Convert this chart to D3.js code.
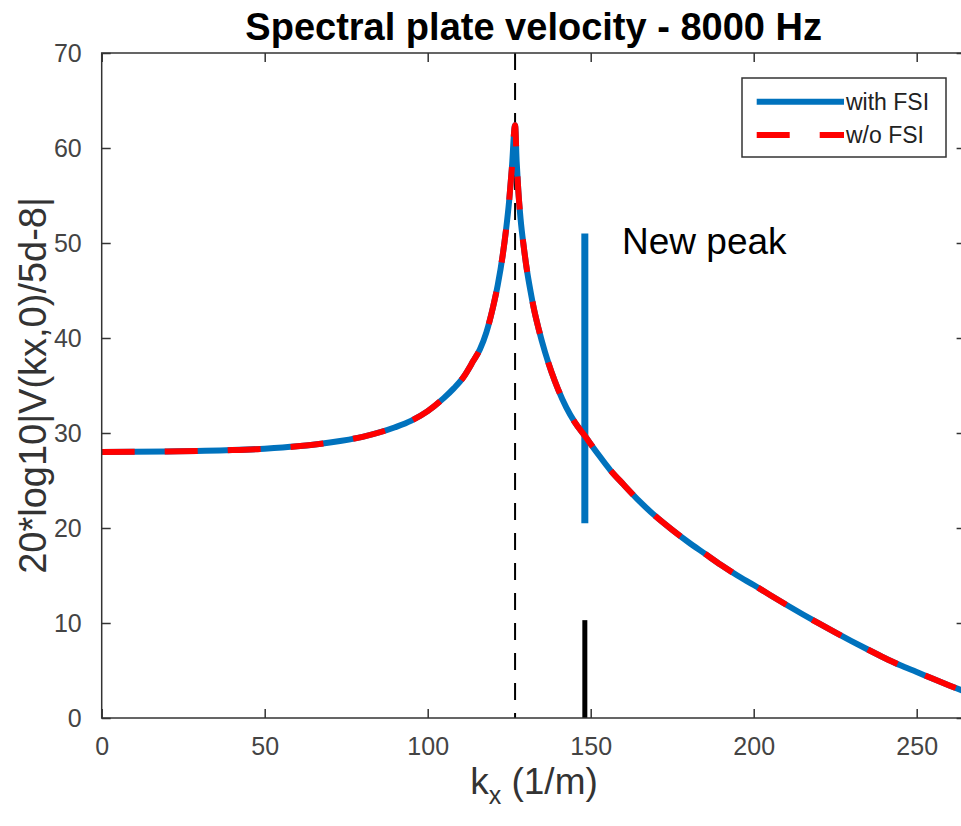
<!DOCTYPE html>
<html>
<head>
<meta charset="utf-8">
<script src="https://cdn.jsdelivr.net/npm/d3@7"></script>
<style>
  html, body { margin: 0; padding: 0; background: #fff; }
  svg { display: block; font-family: "Liberation Sans", Arial, sans-serif; }
</style>
</head>
<body>
<svg id="chart" width="961" height="826"></svg>
<script>
// ---- data ----
const kx = [0, 20, 40, 50, 60, 70, 80, 90, 95, 100, 105, 108, 111, 114, 116, 118, 120, 121.5, 123, 124, 125, 125.8, 126.8,
  127.3, 127.8, 128.5, 129.5, 130.5, 131.5, 132.5, 134, 136, 138, 140, 142.5, 145, 148.2,
  152, 156, 160, 165, 170, 175, 180, 185, 190, 195, 200, 205, 210, 215, 220, 225, 230, 235, 240, 245, 250, 255, 260, 265];
const withFSI = [28.0, 28.05, 28.2, 28.35, 28.6, 29.0, 29.6, 30.6, 31.3, 32.3, 33.7, 34.7, 35.9, 37.6, 38.8, 40.6, 43.2, 45.6, 48.7, 51.3, 54.5, 57.8, 62.4,
  58.5, 55.5, 52.5, 49.5, 47.0, 45.0, 43.2, 41.0, 38.5, 36.4, 34.6, 32.7, 31.2, 29.7,
  27.9, 26.1, 24.6, 22.8, 21.2, 19.8, 18.5, 17.3, 16.1, 15.0, 14.0, 12.95, 11.92, 10.92, 9.95, 9.01, 8.1, 7.21, 6.35, 5.55, 4.85, 4.12, 3.42, 2.75];
const withoutFSI = [28.0, 28.05, 28.2, 28.35, 28.6, 29.0, 29.6, 30.6, 31.3, 32.3, 33.7, 34.7, 35.9, 37.6, 38.8, 40.6, 43.2, 45.6, 48.7, 51.3, 54.5, 57.8, 62.4,
  58.5, 55.5, 52.5, 49.5, 47.0, 45.0, 43.2, 41.0, 38.5, 36.4, 34.6, 32.7, 31.2, 29.7,
  27.9, 26.1, 24.6, 22.8, 21.2, 19.8, 18.5, 17.3, 16.1, 15.0, 14.0, 12.95, 11.92, 10.92, 9.95, 9.01, 8.1, 7.21, 6.35, 5.55, 4.85, 4.12, 3.42, 2.75];
const newPeakK = 148.2;
const newPeakSpan = [20.5, 51];     // blue spike (with FSI)
const markerSpan = [0, 10.3];       // black marker
const resonanceK = 126.8;           // dashed line
const xTicks = [0, 50, 100, 150, 200, 250];
const yTicks = [0, 10, 20, 30, 40, 50, 60, 70];
const seriesNames = ["with FSI", "w/o FSI"];
const titleText = "Spectral plate velocity - 8000 Hz";
const yLabelText = "20*log10|V(kx,0)/5d-8|";
const annotationText = "New peak";

// ---- layout ----
const mLeft = 101.7, mTop = 53, mBottom = 718, mRight = 965.6;
const blue = "#0072BD", red = "#FF0000", axisColor = "#333333";

const svg = d3.select("#chart");
const x = d3.scaleLinear().domain([0, 265]).range([mLeft, mRight]);
const y = d3.scaleLinear().domain([0, 70]).range([mBottom, mTop]);

svg.append("defs").append("clipPath").attr("id", "clip")
  .append("rect").attr("x", mLeft).attr("y", mTop).attr("width", mRight - mLeft).attr("height", mBottom - mTop);

const plot = svg.append("g").attr("clip-path", "url(#clip)");

// dashed resonance line
plot.append("line")
  .attr("x1", x(resonanceK)).attr("x2", x(resonanceK))
  .attr("y1", y(70)).attr("y2", y(0))
  .attr("stroke", "#000").attr("stroke-width", 2).attr("stroke-dasharray", "17,13");

const line = d3.line().x(d => x(d[0])).y(d => y(d[1])).curve(d3.curveMonotoneX);

// with FSI (solid blue)
plot.append("path")
  .datum(kx.map((k, i) => [k, withFSI[i]]))
  .attr("d", line).attr("fill", "none").attr("stroke", blue)
  .attr("stroke-width", 6).attr("stroke-linejoin", "round");

// blue spike
plot.append("line")
  .attr("x1", x(newPeakK)).attr("x2", x(newPeakK))
  .attr("y1", y(newPeakSpan[0])).attr("y2", y(newPeakSpan[1]))
  .attr("stroke", blue).attr("stroke-width", 7);

// w/o FSI (dashed red)
plot.append("path")
  .datum(kx.map((k, i) => [k, withoutFSI[i]]))
  .attr("d", line).attr("fill", "none").attr("stroke", red)
  .attr("stroke-width", 6).attr("stroke-dasharray", "33,30").attr("stroke-linejoin", "round");

// black marker
plot.append("line")
  .attr("x1", x(newPeakK)).attr("x2", x(newPeakK))
  .attr("y1", y(markerSpan[0])).attr("y2", y(markerSpan[1]))
  .attr("stroke", "#000").attr("stroke-width", 5);

// ---- axes ----
const tickLen = 9;
svg.append("rect").attr("x", mLeft).attr("y", mTop).attr("width", mRight - mLeft).attr("height", mBottom - mTop)
  .attr("fill", "none").attr("stroke", axisColor).attr("stroke-width", 1.5);

const xb = svg.append("g").attr("transform", `translate(0,${mBottom})`)
  .call(d3.axisBottom(x).tickValues(xTicks).tickSizeInner(-tickLen).tickSizeOuter(0).tickPadding(tickLen + 10));
const xt = svg.append("g").attr("transform", `translate(0,${mTop})`)
  .call(d3.axisTop(x).tickValues(xTicks).tickSizeInner(-tickLen).tickSizeOuter(0).tickFormat(""));
const yl = svg.append("g").attr("transform", `translate(${mLeft},0)`)
  .call(d3.axisLeft(y).tickValues(yTicks).tickSizeInner(-tickLen).tickSizeOuter(0).tickPadding(tickLen + 11));
const yr = svg.append("g").attr("transform", `translate(${mRight},0)`)
  .call(d3.axisRight(y).tickValues(yTicks).tickSizeInner(-tickLen).tickSizeOuter(0).tickFormat(""));
[xb, xt, yl, yr].forEach(g => {
  g.select(".domain").remove();
  g.selectAll(".tick line").attr("stroke", axisColor).attr("stroke-width", 1.5);
  g.selectAll(".tick text").attr("fill", "#444").attr("font-size", 25)
    .attr("font-family", "Liberation Sans, Arial, sans-serif");
});
xb.selectAll(".tick text").attr("dy", "0.71em");

// ---- texts ----
svg.append("text").attr("x", (mLeft + mRight) / 2).attr("y", 40).attr("text-anchor", "middle")
  .attr("font-size", 38).attr("font-weight", "bold").attr("fill", "#000").text(titleText);

const xl = svg.append("text").attr("x", 534).attr("y", 794).attr("text-anchor", "middle")
  .attr("font-size", 37).attr("fill", "#333");
xl.append("tspan").text("k");
xl.append("tspan").attr("font-size", 25).attr("dy", 10).text("x");
xl.append("tspan").attr("dy", -10).text(" (1/m)");

svg.append("text").attr("transform", `translate(46,${(mTop + mBottom) / 2}) rotate(-90)`)
  .attr("text-anchor", "middle").attr("font-size", 38).attr("fill", "#333").text(yLabelText);

svg.append("text").attr("x", 622).attr("y", 254).attr("font-size", 37).attr("fill", "#000").text(annotationText);

// ---- legend ----
const lg = svg.append("g");
lg.append("rect").attr("x", 742).attr("y", 78).attr("width", 204).attr("height", 79)
  .attr("fill", "#fff").attr("stroke", axisColor).attr("stroke-width", 1.5);
const legendRows = [
  { name: seriesNames[0], color: blue, dash: null, yy: 101.7 },
  { name: seriesNames[1], color: red, dash: "33,30", yy: 135 }
];
legendRows.forEach(r => {
  lg.append("line").attr("x1", 756.7).attr("x2", 844).attr("y1", r.yy).attr("y2", r.yy)
    .attr("stroke", r.color).attr("stroke-width", 6).attr("stroke-dasharray", r.dash);
  lg.append("text").attr("x", 846).attr("y", r.yy + 8).attr("font-size", 23).attr("fill", "#222").text(r.name);
});
</script>
</body>
</html>
